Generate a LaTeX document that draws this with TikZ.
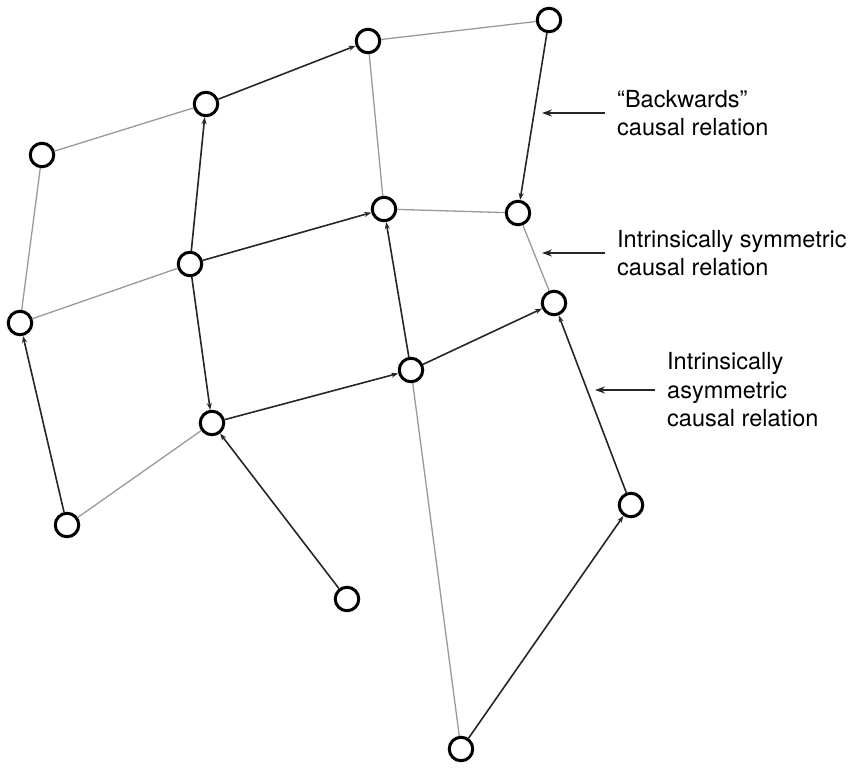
\documentclass[tikz,border=0pt]{standalone}
\usepackage{fontspec}
\setmainfont{TeX Gyre Heros}
\usetikzlibrary{arrows.meta}
\begin{document}
\begin{tikzpicture}[x=1pt,y=-1pt,
	event/.style={circle,draw=black,line width=3pt,minimum size=23.5pt,inner sep=0pt,fill=white},
	sym/.style={draw=black!40,line width=1.3pt},
	asym/.style={draw=black!85,line width=1.6pt,-{Stealth[length=7pt,width=5pt]}},
	note/.style={anchor=west,inner xsep=12pt,inner ysep=0pt,align=left,font=\fontsize{23.5}{28.5}\selectfont},
	pointer/.style={draw=black!85,line width=1.8pt,-{Stealth[length=10pt,width=7pt]}}]
					\useasboundingbox (0,0) rectangle (853,768);
					
					\node[event] (e1) at (42,155) {};
					\node[event] (e2) at (206,104) {};
					\node[event] (e3) at (368,41) {};
					\node[event] (e4) at (549,20) {};
					\node[event] (e5) at (20,323) {};
					\node[event] (e6) at (190,264) {};
					\node[event] (e7) at (384,209) {};
					\node[event] (e8) at (518,213) {};
					\node[event] (e9) at (554,303) {};
					\node[event] (e10) at (411,370) {};
					\node[event] (e11) at (212,423) {};
					\node[event] (e12) at (67,525) {};
					\node[event] (e13) at (347,599) {};
					\node[event] (e14) at (631,505) {};
					\node[event] (e15) at (461,749) {};
					
					\draw[sym] (e1) -- (e2);
					\draw[sym] (e3) -- (e4);
					\draw[sym] (e1) -- (e5);
					\draw[sym] (e3) -- (e7);
					\draw[sym] (e5) -- (e6);
					\draw[sym] (e7) -- (e8);
					\draw[sym] (e8) -- (e9);
					\draw[sym] (e11) -- (e12);
					\draw[sym] (e10) -- (e15);
					
					\draw[asym] (e2) -- (e3);
					\draw[asym] (e6) -- (e2);
					\draw[asym] (e4) -- (e8);
					\draw[asym] (e6) -- (e7);
					\draw[asym] (e10) -- (e7);
					\draw[asym] (e10) -- (e9);
					\draw[asym] (e14) -- (e9);
					\draw[asym] (e11) -- (e10);
					\draw[asym] (e6) -- (e11);
					\draw[asym] (e13) -- (e11);
					\draw[asym] (e12) -- (e5);
					\draw[asym] (e15) -- (e14);
					
					\coordinate (tipback) at (542,113);
					\coordinate (tipsym) at (542,253);
					\coordinate (tipasym) at (595,390);
					
					\node[note] (backwards) at (605,113) {“Backwards”\\causal relation};
					\node[note] (symmetric) at (605,253) {Intrinsically symmetric\\causal relation};
					\node[note] (asymmetric) at (655,390) {Intrinsically\\asymmetric\\causal relation};
					
					\draw[pointer] (backwards.west) -- (tipback);
					\draw[pointer] (symmetric.west) -- (tipsym);
					\draw[pointer] (asymmetric.west) -- (tipasym);
				\end{tikzpicture}
\end{document}
